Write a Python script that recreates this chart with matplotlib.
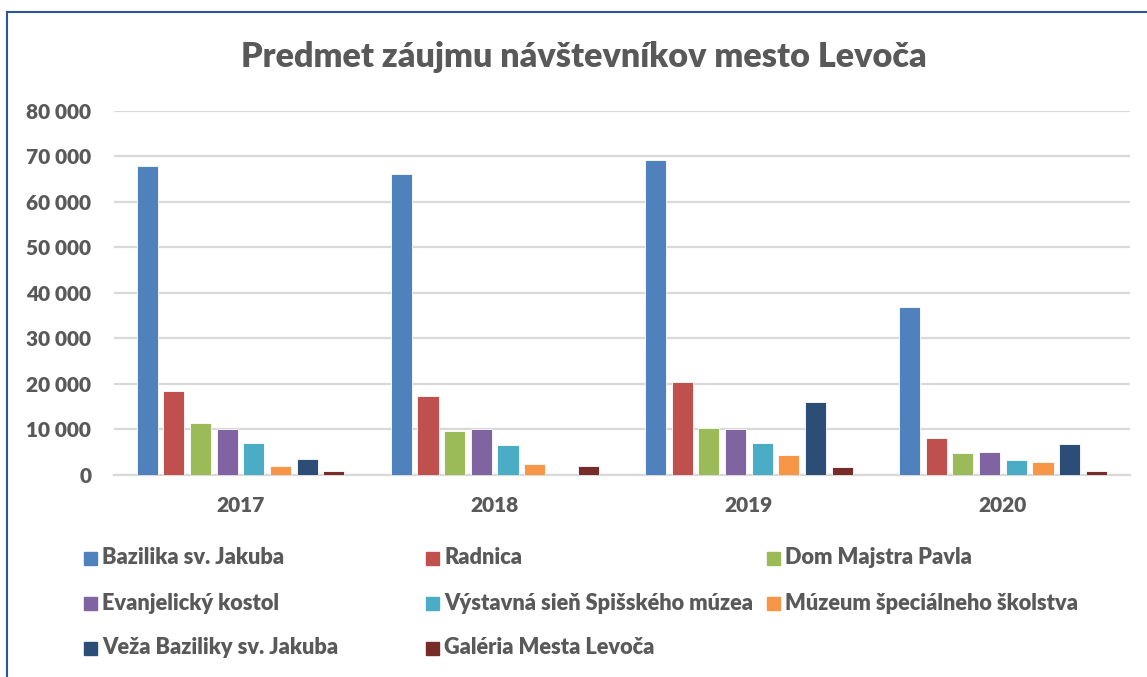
import matplotlib.pyplot as plt
from matplotlib.lines import Line2D
from matplotlib.patches import Rectangle
import numpy as np

years = ['2017', '2018', '2019', '2020']
series = ['Bazilika sv. Jakuba', 'Radnica', 'Dom Majstra Pavla',
          'Evanjelický kostol', 'Výstavná sieň Spišského múzea',
          'Múzeum špeciálneho školstva', 'Veža Baziliky sv. Jakuba',
          'Galéria Mesta Levoča']
values = [
    [67800, 66000, 69100, 37000],   # Bazilika
    [18500, 17300, 20400, 8200],    # Radnica
    [11500, 9600, 10300, 4900],     # Dom Majstra Pavla
    [10000, 10000, 10000, 5000],    # Evanjelický kostol
    [7000, 6500, 7000, 3300],       # Výstavná sieň
    [2000, 2500, 4300, 2800],       # Múzeum špec. školstva
    [3600, 0, 16100, 6700],         # Veža Baziliky
    [900, 2000, 1700, 900],         # Galéria
]
colors = ['#4F81BD', '#C0504D', '#9BBB59', '#8064A2',
          '#4BACC6', '#F79646', '#2C4D75', '#772C2A']
yticks = [0, 10000, 20000, 30000, 40000, 50000, 60000, 70000, 80000]
ytick_labels = ['0', '10 000', '20 000', '30 000', '40 000',
                '50 000', '60 000', '70 000', '80 000']

txt = '#595959'
plt.rcParams['font.family'] = ['Lato', 'DejaVu Sans']
wt = 'heavy'

W, H = 1147, 677
fig = plt.figure(figsize=(W / 100, H / 100), dpi=100)
ax = fig.add_axes([113.5 / W, 1 - 475 / H, (1130 - 113.5) / W, (475 - 110.7) / H])

x = np.arange(len(years))
step, bw = 0.105, 0.083
for i, (name, vals, c) in enumerate(zip(series, values, colors)):
    ax.bar(x + (i - 3.5) * step, vals, bw, color=c, edgecolor='white',
           linewidth=0.6, zorder=3, label=name)

ax.set_xlim(-0.5, len(years) - 0.5)
ax.set_ylim(0, 80000)
ax.set_yticks(yticks)
ax.set_yticklabels(ytick_labels)
ax.set_xticks(x)
ax.set_xticklabels(years)
ax.tick_params(axis='y', length=0, pad=16, labelsize=15, labelcolor=txt)
ax.tick_params(axis='x', length=0, pad=15, labelsize=15, labelcolor=txt)
for lab in ax.get_xticklabels() + ax.get_yticklabels():
    lab.set_fontweight(wt)
ax.grid(axis='y', color='#D9D9D9', linewidth=1.6, zorder=0)
for s in ['top', 'right', 'left']:
    ax.spines[s].set_visible(False)
ax.spines['bottom'].set_color('#D9D9D9')
ax.spines['bottom'].set_linewidth(1.6)

fig.text(584 / W, 1 - 57 / H, 'Predmet záujmu návštevníkov mesto Levoča',
         ha='center', va='center', fontsize=24.6, fontweight=wt, color=txt)

# legenda (3 stĺpce ako v Exceli)
col_x = [84, 426, 767]
row_y = [558, 603, 648]
for i, (name, c) in enumerate(zip(series, colors)):
    cx, cy = col_x[i % 3], row_y[i // 3]
    fig.patches.append(Rectangle((cx / W, 1 - (cy + 6.5) / H), 13 / W, 13 / H,
                                 transform=fig.transFigure, color=c))
    fig.text((cx + 18) / W, 1 - cy / H, name, ha='left', va='center',
             fontsize=15.7, fontweight=wt, color=txt)

# rám
frame = '#2E5597'
fig.add_artist(Line2D([7 / W, 7 / W], [0, 1 - 12 / H], color=frame, linewidth=1.5))
fig.add_artist(Line2D([7 / W, 1], [1 - 12 / H, 1 - 12 / H], color=frame, linewidth=1.5))

fig.savefig('out.png', dpi=100)
